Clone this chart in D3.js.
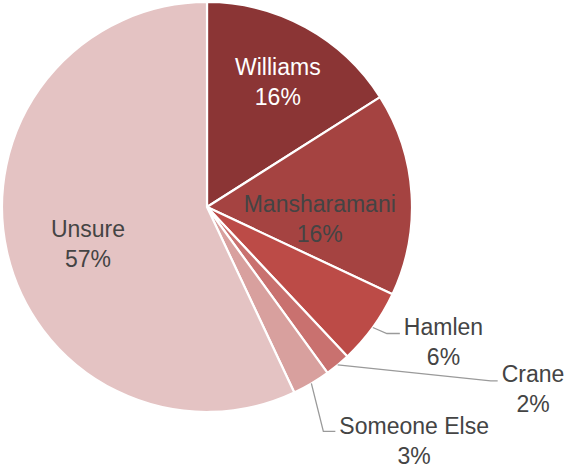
<!DOCTYPE html>
<html><head><meta charset="utf-8">
<script src="https://cdn.jsdelivr.net/npm/d3@7"></script>
<style>
html,body{margin:0;padding:0;background:#fff;}
svg{display:block;font-family:"Liberation Sans",Arial,Helvetica,sans-serif;}
</style></head>
<body>
<svg id="chart" width="567" height="470"></svg>
<script>
const categories = ["Williams","Mansharamani","Hamlen","Crane","Someone Else","Unsure"];
const values = [16,16,6,2,3,57];
const colors = ["#8b3535","#a54341","#bc4b47","#c9716f","#d8a09e","#e4c3c3"];
const textColors = ["#ffffff","#444444","#444444","#444444","#444444","#444444"];
// label placement: inside (radius, nudge) or outside (elbow offset, tail length, text shift)
const labelLayout = [
  {type:"inside", r:145, dx:1, dy:2},
  {type:"inside", r:115, dx:-2, dy:19},
  {type:"outside", ex:14, ey:6, tail:13, ty:2},
  {type:"outside", ex:153, ey:16, tail:7, ty:1},
  {type:"outside", ex:12, ey:48, tail:12, ty:3},
  {type:"inside", r:124, dx:2, dy:10}
];

const W=567,H=470, cx=207, cy=207, R=205, fs=23, lh=30;
const svg=d3.select("#chart");
const g=svg.append("g").attr("transform",`translate(${cx},${cy})`);
const data=categories.map((c,i)=>({name:c,value:values[i],i}));
const pie=d3.pie().value(d=>d.value).sort(null);
const arcs=pie(data);
const arc=d3.arc().innerRadius(0).outerRadius(R);
g.selectAll("path.slice").data(arcs).join("path")
  .attr("class","slice")
  .attr("d",arc)
  .attr("fill",d=>colors[d.data.i])
  .attr("stroke","#fff").attr("stroke-width",2.2).attr("stroke-linejoin","round");

const total=d3.sum(values);
arcs.forEach(a=>{
  const i=a.data.i, L=labelLayout[i];
  const mid=(a.startAngle+a.endAngle)/2;
  const pct=Math.round(a.data.value/total*100)+"%";
  if(L.type==="inside"){
    const x=Math.sin(mid)*L.r+L.dx, y=-Math.cos(mid)*L.r+L.dy;
    const t=g.append("text").attr("text-anchor","middle").attr("fill",textColors[i])
      .attr("font-size",fs);
    t.append("tspan").attr("x",x).attr("y",y-lh/2+8).text(a.data.name);
    t.append("tspan").attr("x",x).attr("y",y+lh/2+8).text(pct);
  } else {
    const x0=Math.sin(mid)*R, y0=-Math.cos(mid)*R;
    const x1=x0+L.ex, y1=y0+L.ey, x2=x1+L.tail;
    g.append("path").attr("d",`M${x0},${y0}L${x1},${y1}L${x2},${y1}`)
      .attr("fill","none").attr("stroke","#9a9a9a").attr("stroke-width",1.3);
    const t=g.append("text").attr("text-anchor","middle").attr("fill",textColors[i])
      .attr("font-size",fs);
    const t1=t.append("tspan").attr("y",y1+L.ty).text(a.data.name);
    const t2=t.append("tspan").attr("y",y1+L.ty+lh).text(pct);
    const w=t1.node().getComputedTextLength();
    const xc=x2+4+w/2;
    t1.attr("x",xc); t2.attr("x",xc);
  }
});
</script>
</body></html>
